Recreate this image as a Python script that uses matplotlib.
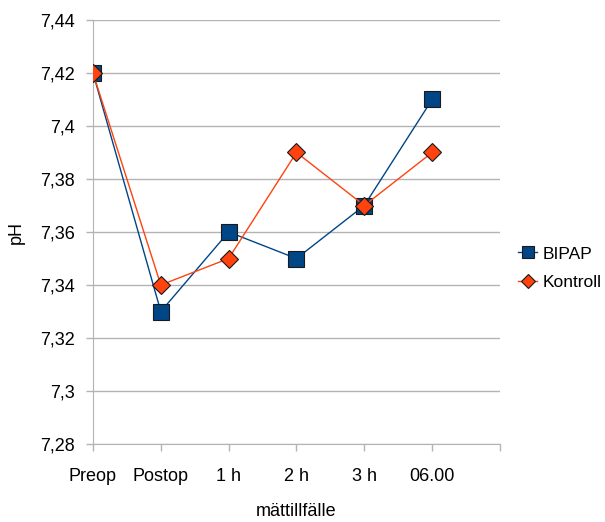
import numpy as np
import matplotlib
matplotlib.use('Agg')
import matplotlib.pyplot as plt

plt.rcParams['font.family'] = ['Liberation Sans', 'DejaVu Sans']

# data
kategorier = ['Preop', 'Postop', '1 h', '2 h', '3 h', '06.00']
bipap = [7.42, 7.33, 7.36, 7.35, 7.37, 7.41]
kontroll = [7.42, 7.34, 7.35, 7.39, 7.37, 7.39]
yticks = [7.28, 7.30, 7.32, 7.34, 7.36, 7.38, 7.40, 7.42, 7.44]
ytick_labels = ['7,28', '7,3', '7,32', '7,34', '7,36', '7,38', '7,4', '7,42', '7,44']

fig = plt.figure(figsize=(6.05, 5.22), dpi=100)
ax = fig.add_axes([0.1537, 0.1494, 0.6727, 0.8123])

x = np.arange(len(kategorier))
ax.plot(x, bipap, color='#004586', lw=1, marker='s', ms=12,
        mfc='#004586', mec='#1a1a1a', mew=0.8, label='BIPAP', zorder=3)
ax.plot(x, kontroll, color='#ff420e', lw=1, marker='D', ms=9,
        mfc='#ff420e', mec='#1a1a1a', mew=0.8, label='Kontroll', zorder=4)

ax.set_xlim(0, 6)
ax.set_ylim(7.28, 7.44)
ax.set_yticks(yticks)
ax.set_yticklabels(ytick_labels, fontsize=13)
ax.set_xticks(np.arange(7))
ax.set_xticklabels(kategorier + [''], fontsize=13)
ax.yaxis.grid(True, color='#b3b3b3', lw=1)
ax.tick_params(axis='both', color='#b3b3b3', length=5, width=1)
ax.tick_params(axis='x', pad=12)
ax.tick_params(axis='y', pad=8)
for s in ['top', 'right']:
    ax.spines[s].set_visible(False)
for s in ['left', 'bottom']:
    ax.spines[s].set_color('#b3b3b3')

ax.set_xlabel('mättillfälle', fontsize=13, labelpad=13)
ax.set_ylabel('pH', fontsize=13, labelpad=11)

ax.legend(loc='center left', bbox_to_anchor=(1.045, 0.415), frameon=False,
          fontsize=12.5, handlelength=1.1, handletextpad=0.3, markerscale=0.75,
          labelspacing=0.75, borderpad=0, borderaxespad=0)

fig.savefig('out.png', dpi=100)
